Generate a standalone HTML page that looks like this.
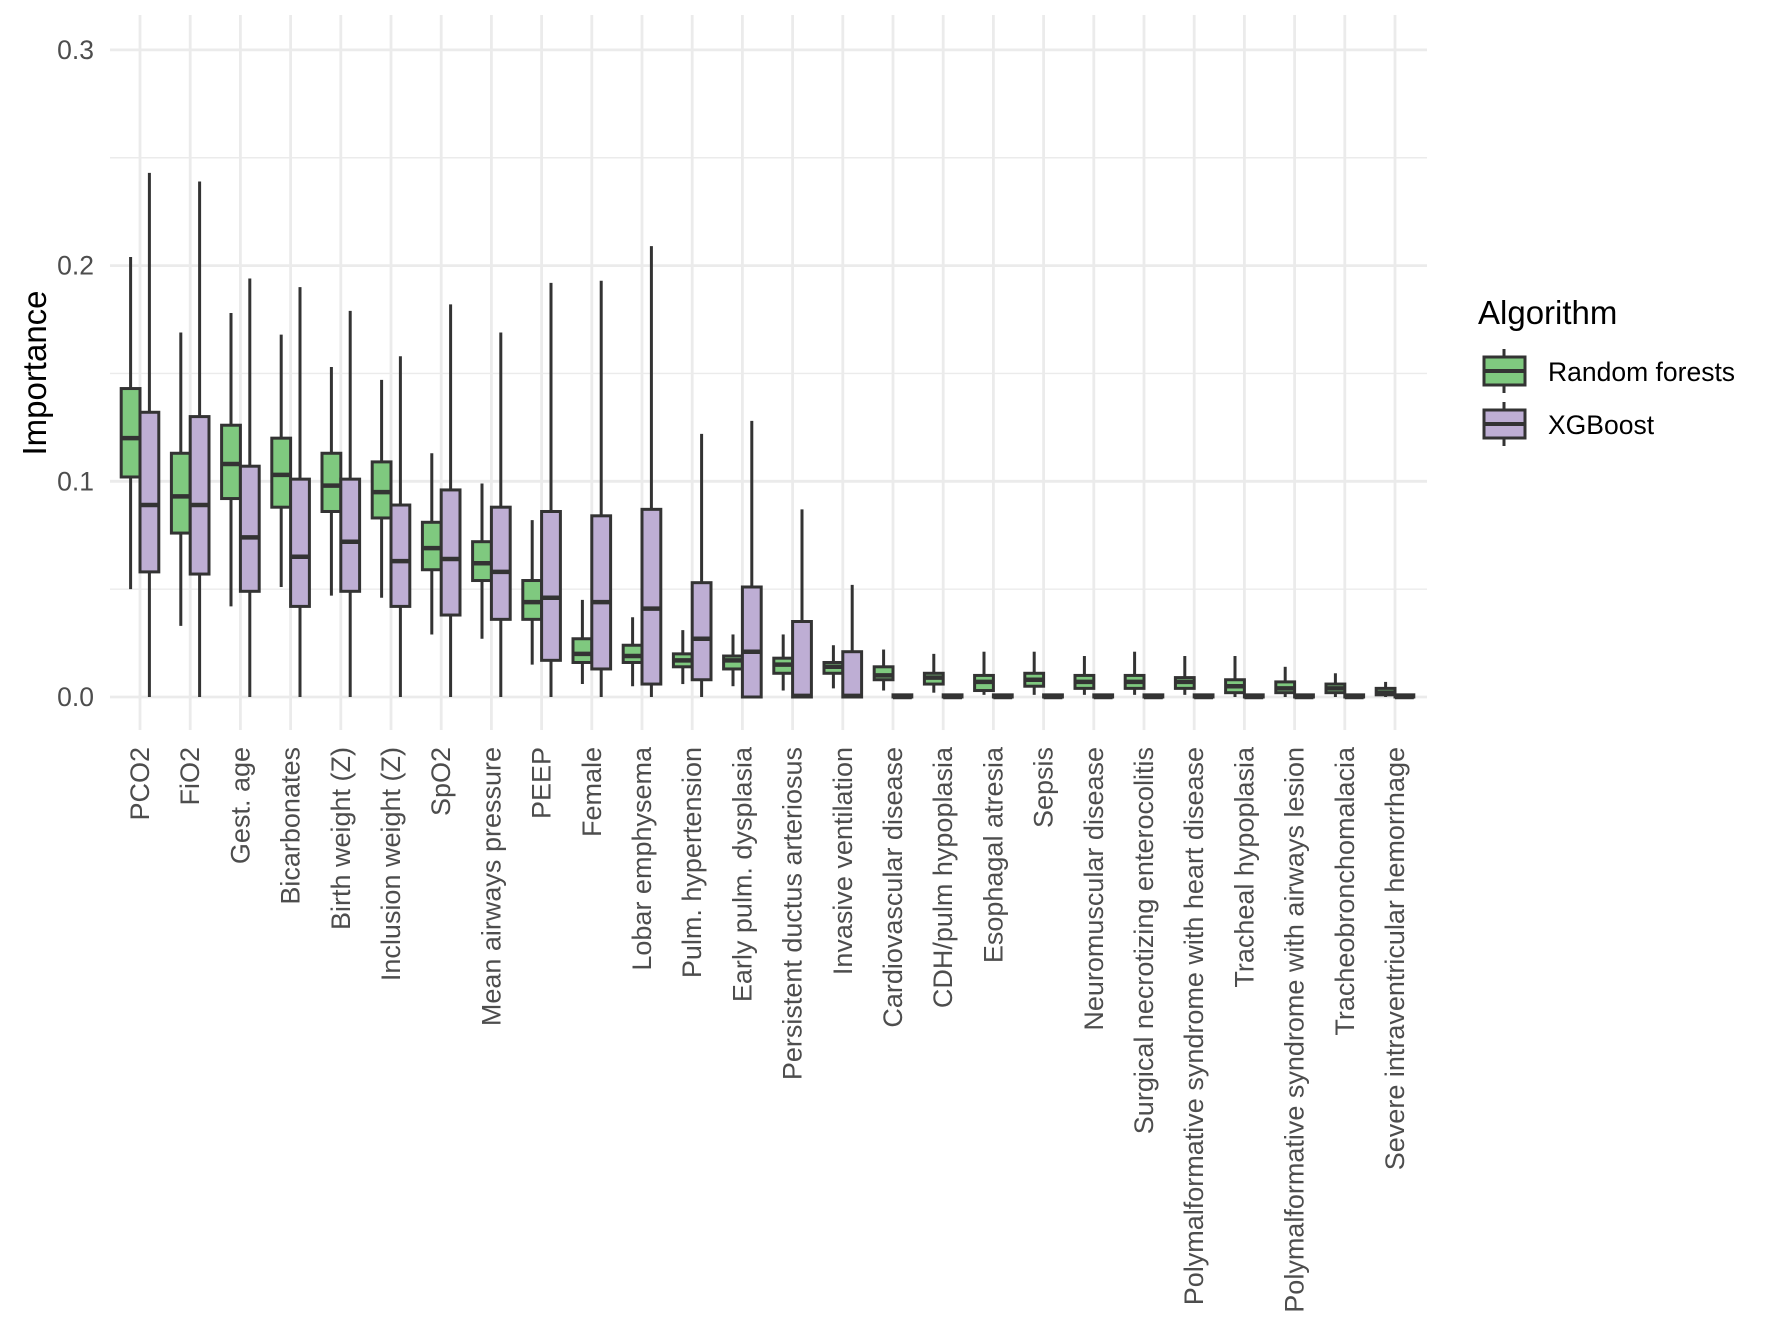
<!DOCTYPE html>
<html><head><meta charset="utf-8"><style>
html,body{margin:0;padding:0;background:#fff}
svg{display:block;font-family:"Liberation Sans",sans-serif}
</style></head><body>
<svg id="chart" width="1772" height="1329" viewBox="0 0 1772 1329" xmlns="http://www.w3.org/2000/svg">
<rect width="1772" height="1329" fill="#fff"/>
<g id="grid"></g>
<g id="yticks"></g>
<g id="boxes"></g>
<g id="xticks"></g>
<text transform="translate(46,373) rotate(-90)" text-anchor="middle" font-size="33" fill="#000">Importance</text>
<g>
<text x="1478" y="324" font-size="33" fill="#000">Algorithm</text>
<g>
<line x1="1504" y1="349" x2="1504" y2="393" stroke="#333" stroke-width="3"/>
<rect x="1484" y="357" width="41" height="28" fill="#7fc97f" stroke="#333" stroke-width="3"/>
<line x1="1484" y1="371" x2="1525" y2="371" stroke="#333" stroke-width="4"/>
<text x="1548" y="381" font-size="26.5" fill="#000">Random forests</text>
</g>
<g>
<line x1="1504" y1="402" x2="1504" y2="446" stroke="#333" stroke-width="3"/>
<rect x="1484" y="410" width="41" height="28" fill="#beaed4" stroke="#333" stroke-width="3"/>
<line x1="1484" y1="424" x2="1525" y2="424" stroke="#333" stroke-width="4"/>
<text x="1548" y="434" font-size="26.5" fill="#000">XGBoost</text>
</g>
</g>
</svg>
<script>
const categories = ["PCO2","FiO2","Gest. age","Bicarbonates","Birth weight (Z)","Inclusion weight (Z)","SpO2","Mean airways pressure","PEEP","Female","Lobar emphysema","Pulm. hypertension","Early pulm. dysplasia","Persistent ductus arteriosus","Invasive ventilation","Cardiovascular disease","CDH/pulm hypoplasia","Esophagal atresia","Sepsis","Neuromuscular disease","Surgical necrotizing enterocolitis","Polymalformative syndrome with heart disease","Tracheal hypoplasia","Polymalformative syndrome with airways lesion","Tracheobronchomalacia","Severe intraventricular hemorrhage"];
const rfLow = [0.050,0.033,0.042,0.051,0.047,0.046,0.029,0.027,0.015,0.006,0.005,0.006,0.005,0.003,0.004,0.003,0.002,0.001,0.001,0.001,0.001,0.001,0.000,0.000,0.000,0.000];
const rfQ1 = [0.102,0.076,0.092,0.088,0.086,0.083,0.059,0.054,0.036,0.016,0.016,0.014,0.013,0.011,0.011,0.008,0.006,0.003,0.005,0.004,0.004,0.004,0.002,0.002,0.002,0.001];
const rfMed = [0.120,0.093,0.108,0.103,0.098,0.095,0.069,0.062,0.044,0.020,0.019,0.017,0.017,0.015,0.014,0.010,0.009,0.007,0.008,0.007,0.007,0.007,0.005,0.004,0.004,0.002];
const rfQ3 = [0.143,0.113,0.126,0.120,0.113,0.109,0.081,0.072,0.054,0.027,0.024,0.020,0.019,0.018,0.016,0.014,0.011,0.010,0.011,0.010,0.010,0.009,0.008,0.007,0.006,0.004];
const rfHigh = [0.204,0.169,0.178,0.168,0.153,0.147,0.113,0.099,0.082,0.045,0.037,0.031,0.029,0.029,0.024,0.022,0.020,0.021,0.021,0.019,0.021,0.019,0.019,0.014,0.011,0.007];
const xgLow = [0,0,0,0,0,0,0,0,0,0,0,0,0,0,0,0,0,0,0,0,0,0,0,0,0,0];
const xgQ1 = [0.058,0.057,0.049,0.042,0.049,0.042,0.038,0.036,0.017,0.013,0.006,0.008,0.000,0.000,0.000,0,0,0,0,0,0,0,0,0,0,0];
const xgMed = [0.089,0.089,0.074,0.065,0.072,0.063,0.064,0.058,0.046,0.044,0.041,0.027,0.021,0.0005,0.0005,0,0,0,0,0,0,0,0,0,0,0];
const xgQ3 = [0.132,0.130,0.107,0.101,0.101,0.089,0.096,0.088,0.086,0.084,0.087,0.053,0.051,0.035,0.021,0.001,0.001,0.001,0.001,0.001,0.001,0.001,0.001,0.001,0.001,0.001];
const xgHigh = [0.243,0.239,0.194,0.190,0.179,0.158,0.182,0.169,0.192,0.193,0.209,0.122,0.128,0.087,0.052,0.001,0.001,0.001,0.001,0.001,0.001,0.001,0.001,0.001,0.001,0.001];
const yMajor = [0, 0.1, 0.2, 0.3];
const yMajorLabels = ["0.0","0.1","0.2","0.3"];
const yMinor = [0.05, 0.15, 0.25];

const NS="http://www.w3.org/2000/svg";
const panelL=110, panelR=1427, panelT=15, panelB=730;
function yS(v){return 697 - v*2157;}
function xS(i){return 140 + i*50.2;}
function mk(tag,attrs,parent){const e=document.createElementNS(NS,tag);for(const k in attrs)e.setAttribute(k,attrs[k]);parent.appendChild(e);return e;}
const grid=document.getElementById('grid'), yt=document.getElementById('yticks'), bx=document.getElementById('boxes'), xt=document.getElementById('xticks');
yMinor.forEach(v=>{const l=mk('line',{x1:panelL,x2:panelR,y1:yS(v),y2:yS(v),stroke:'#ebebeb','stroke-width':1.4},grid);

});
yMajor.forEach((v,k)=>{const l=mk('line',{x1:panelL,x2:panelR,y1:yS(v),y2:yS(v),stroke:'#ebebeb','stroke-width':2.8},grid);


const t=mk('text',{x:94,y:yS(v)+9,'text-anchor':'end','font-size':26.5,fill:'#4d4d4d'},yt);


t.textContent=yMajorLabels[k];});
categories.forEach((c,i)=>{const l=mk('line',{x1:xS(i),x2:xS(i),y1:panelT,y2:panelB,stroke:'#ebebeb','stroke-width':2.8},grid);


const t=mk('text',{transform:`translate(${xS(i)+9},747) rotate(-90)`,'text-anchor':'end','font-size':27,fill:'#4d4d4d'},xt);


t.textContent=c;});
const bw=18.8;
function box(i,off,lo,q1,md,q3,hi,fill,name){
 const g=mk('g',{},bx);
 
 
 const cx=xS(i)+off;
 mk('line',{x1:cx,x2:cx,y1:yS(hi),y2:yS(lo),stroke:'#333','stroke-width':3},g);
 mk('rect',{x:cx-bw/2,y:yS(q3),width:bw,height:Math.max(yS(q1)-yS(q3),0.5),fill:fill,stroke:'#333','stroke-width':3},g);
 mk('line',{x1:cx-bw/2,x2:cx+bw/2,y1:yS(md),y2:yS(md),stroke:'#333','stroke-width':4.5},g);
}
categories.forEach((c,i)=>{
 box(i,-9.4,rfLow[i],rfQ1[i],rfMed[i],rfQ3[i],rfHigh[i],'#7fc97f','box-random-forests');
 box(i,9.4,xgLow[i],xgQ1[i],xgMed[i],xgQ3[i],xgHigh[i],'#beaed4','box-xgboost');
});
</script>
</body></html>
